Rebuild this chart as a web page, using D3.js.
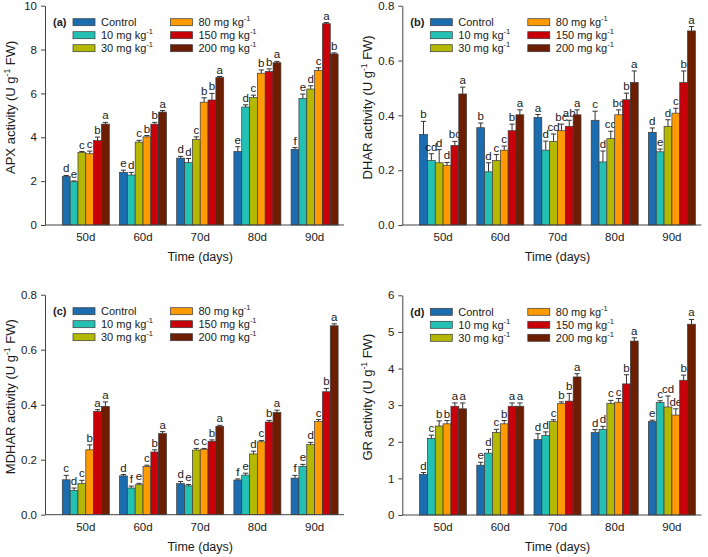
<!DOCTYPE html>
<html><head><meta charset="utf-8">
<script src="https://cdn.jsdelivr.net/npm/d3@7"></script>
<style>body{margin:0;background:#fff}svg{display:block;font-family:"Liberation Sans",Arial,sans-serif}</style>
</head><body><svg id="c" width="708" height="557"></svg>
<script>
const categories = ["50d", "60d", "70d", "80d", "90d"];
const seriesLabels = ["Control", "10 mg kg", "30 mg kg", "80 mg kg", "150 mg kg", "200 mg kg"];
const seriesSup = ["", "-1", "-1", "-1", "-1", "-1"];
const seriesColors = ["#1b6db0", "#23c1b4", "#b4b800", "#ff9a00", "#c8000a", "#6e1e00"];

// rows = categories, columns = series
const apxMeans = [
  [2.22, 1.97, 3.30, 3.25, 3.85, 4.60],
  [2.40, 2.28, 3.78, 4.02, 4.60, 5.15],
  [3.05, 2.85, 3.90, 5.60, 5.70, 6.72],
  [3.35, 5.38, 5.82, 6.92, 7.00, 7.40],
  [3.45, 5.77, 6.20, 7.05, 9.18, 7.80]];
const apxErrors = [
  [0.04, 0.04, 0.05, 0.12, 0.16, 0.08],
  [0.10, 0.12, 0.08, 0.06, 0.08, 0.07],
  [0.08, 0.18, 0.12, 0.20, 0.30, 0.05],
  [0.22, 0.10, 0.10, 0.15, 0.12, 0.06],
  [0.08, 0.20, 0.15, 0.12, 0.05, 0.05]];
const apxLetters = [
  ["d", "e", "c", "c", "b", "a"],
  ["e", "d", "c", "b", "b", "a"],
  ["d", "d", "c", "b", "b", "a"],
  ["e", "d", "c", "b", "b", "a"],
  ["f", "e", "d", "c", "a", "b"]];
const apxTicks = [0, 2, 4, 6, 8, 10];

const dharMeans = [
  [0.330, 0.235, 0.227, 0.218, 0.290, 0.478],
  [0.355, 0.194, 0.235, 0.273, 0.344, 0.402],
  [0.392, 0.273, 0.305, 0.344, 0.360, 0.402],
  [0.382, 0.230, 0.315, 0.402, 0.457, 0.520],
  [0.338, 0.267, 0.360, 0.408, 0.520, 0.708]];
const dharErrors = [
  [0.048, 0.025, 0.048, 0.010, 0.015, 0.025],
  [0.017, 0.033, 0.022, 0.015, 0.024, 0.018],
  [0.011, 0.033, 0.027, 0.024, 0.022, 0.018],
  [0.033, 0.040, 0.027, 0.018, 0.024, 0.042],
  [0.016, 0.010, 0.024, 0.018, 0.042, 0.016]];
const dharLetters = [
  ["b", "cd", "d", "d", "bc", "a"],
  ["b", "d", "c", "c", "b", "a"],
  ["a", "d", "cd", "bc", "ab", "a"],
  ["c", "d", "cd", "bc", "b", "a"],
  ["d", "e", "d", "c", "b", "a"]];
const dharTicks = [0, 0.2, 0.4, 0.6, 0.8];

const mdharMeans = [
  [0.127, 0.088, 0.113, 0.236, 0.376, 0.394],
  [0.141, 0.097, 0.109, 0.175, 0.228, 0.295],
  [0.113, 0.105, 0.235, 0.238, 0.267, 0.321],
  [0.126, 0.144, 0.221, 0.265, 0.337, 0.372],
  [0.133, 0.176, 0.255, 0.339, 0.447, 0.687]];
const mdharErrors = [
  [0.016, 0.009, 0.012, 0.018, 0.006, 0.016],
  [0.005, 0.007, 0.005, 0.005, 0.008, 0.007],
  [0.008, 0.005, 0.006, 0.003, 0.005, 0.004],
  [0.004, 0.007, 0.010, 0.005, 0.006, 0.008],
  [0.010, 0.007, 0.008, 0.007, 0.012, 0.007]];
const mdharLetters = [
  ["c", "d", "c", "b", "a", "a"],
  ["d", "f", "e", "c", "b", "a"],
  ["d", "e", "c", "c", "b", "a"],
  ["f", "e", "d", "c", "b", "a"],
  ["f", "e", "d", "c", "b", "a"]];
const mdharTicks = [0, 0.2, 0.4, 0.6, 0.8];

const grMeans = [
  [1.11, 2.09, 2.43, 2.49, 2.97, 2.90],
  [1.36, 1.69, 2.25, 2.49, 2.97, 2.97],
  [2.06, 2.17, 2.55, 3.04, 3.11, 3.77],
  [2.25, 2.34, 3.05, 3.08, 3.58, 4.75],
  [2.55, 3.07, 2.95, 2.73, 3.68, 5.21]];
const grErrors = [
  [0.05, 0.09, 0.14, 0.09, 0.09, 0.16],
  [0.08, 0.10, 0.09, 0.09, 0.09, 0.09],
  [0.16, 0.10, 0.05, 0.05, 0.21, 0.09],
  [0.08, 0.08, 0.08, 0.10, 0.25, 0.09],
  [0.04, 0.05, 0.30, 0.17, 0.14, 0.13]];
const grLetters = [
  ["d", "c", "b", "b", "a", "a"],
  ["e", "d", "c", "b", "a", "a"],
  ["d", "d", "c", "b", "b", "a"],
  ["d", "d", "c", "c", "b", "a"],
  ["e", "c", "cd", "de", "b", "a"]];
const grTicks = [0, 1, 2, 3, 4, 5, 6];

const panels = [
  {tag: "(a)", name: "APX", means: apxMeans, errs: apxErrors, letters: apxLetters, ticks: apxTicks, fmt: d3.format("d"), ax: 45, top: 5.7, bottom: 225},
  {tag: "(b)", name: "DHAR", means: dharMeans, errs: dharErrors, letters: dharLetters, ticks: dharTicks, fmt: d3.format(".1f"), ax: 402.3, top: 5.7, bottom: 225},
  {tag: "(c)", name: "MDHAR", means: mdharMeans, errs: mdharErrors, letters: mdharLetters, ticks: mdharTicks, fmt: d3.format(".1f"), ax: 45, top: 294.7, bottom: 514.7},
  {tag: "(d)", name: "GR", means: grMeans, errs: grErrors, letters: grLetters, ticks: grTicks, fmt: d3.format("d"), ax: 402.3, top: 295.3, bottom: 515}
];

const svg = d3.select("#c");
const axisColor = "#444";
const textColor = "#1a1a1a";

panels.forEach(p => {
  const g = svg.append("g");
  const ticks = p.ticks;
  const y = d3.scaleLinear().domain([ticks[0], ticks[ticks.length - 1]]).range([p.bottom, p.top]);
  const x = d3.scaleBand().domain(categories)
    .range([p.ax + 12.2, p.ax + 12.2 + 5 * 57.2])
    .paddingInner(0.178).paddingOuter(0.089);
  const xs = d3.scaleBand().domain(d3.range(seriesLabels.length)).range([0, x.bandwidth()]);

  // bars
  categories.forEach((c, ci) => {
    const grp = g.append("g").attr("transform", `translate(${x(c)},0)`);
    seriesLabels.forEach((s, si) => {
      const v = p.means[ci][si], e = p.errs[ci][si];
      const bx = xs(si), bw = xs.bandwidth(), cx = bx + bw / 2;
      grp.append("rect").attr("x", bx).attr("y", y(v)).attr("width", bw).attr("height", y(0) - y(v))
        .attr("fill", seriesColors[si]).attr("stroke", "#3a3a3a").attr("stroke-width", 0.7);
      grp.append("line").attr("x1", cx).attr("x2", cx).attr("y1", y(v)).attr("y2", y(v + e))
        .attr("stroke", "#333").attr("stroke-width", 1);
      grp.append("line").attr("x1", cx - 2.6).attr("x2", cx + 2.6).attr("y1", y(v + e)).attr("y2", y(v + e))
        .attr("stroke", "#333").attr("stroke-width", 1);
      grp.append("text").attr("x", cx).attr("y", y(v + e) - 3).attr("text-anchor", "middle")
        .attr("font-size", 11.5).attr("fill", textColor).text(p.letters[ci][si]);
    });
  });

  // y axis
  const ya = g.append("g").attr("transform", `translate(${p.ax},0)`)
    .call(d3.axisLeft(y).tickValues(ticks).tickFormat(p.fmt).tickSize(4).tickSizeOuter(0).tickPadding(4));
  ya.select(".domain").attr("stroke", axisColor);
  ya.selectAll(".tick line").attr("stroke", axisColor);
  ya.selectAll("text").attr("font-size", 11.5).attr("fill", textColor).attr("font-family", null);

  // x axis
  const xa = g.append("g").attr("transform", `translate(0,${p.bottom})`)
    .call(d3.axisBottom(x).tickSize(0).tickPadding(8));
  xa.select(".domain").remove();
  xa.selectAll("text").attr("font-size", 11.5).attr("fill", textColor).attr("font-family", null);
  g.append("line").attr("x1", p.ax).attr("x2", p.ax + 299).attr("y1", p.bottom).attr("y2", p.bottom)
    .attr("stroke", axisColor).attr("stroke-width", 1);

  // axis titles
  const xr = x.range();
  g.append("text").attr("x", (xr[0] + xr[1]) / 2).attr("y", p.bottom + 36).attr("text-anchor", "middle")
    .attr("font-size", 12.5).attr("fill", textColor).text("Time (days)");
  const yt = g.append("text").attr("transform", `translate(${p.ax - 30},${(p.top + p.bottom) / 2 - 8}) rotate(-90)`)
    .attr("text-anchor", "middle").attr("font-size", 13).attr("fill", textColor);
  yt.append("tspan").text(p.name + " activity (U g");
  yt.append("tspan").attr("font-size", 8.5).attr("dy", -5).text("-1");
  yt.append("tspan").attr("dy", 5).text(" FW)");

  // panel tag
  g.append("text").attr("x", p.ax + 8).attr("y", p.top + 16.5 + 4).attr("font-size", 11)
    .attr("font-weight", "bold").attr("fill", textColor).text(p.tag);

  // legend
  const rowOff = [16.5, 29.5, 42.5];
  seriesLabels.forEach((s, si) => {
    const col = si < 3 ? 0 : 1, row = si % 3;
    const sx = p.ax + (col ? 125.5 : 28), sy = p.top + rowOff[row];
    g.append("rect").attr("x", sx).attr("y", sy - 3.5).attr("width", 22).attr("height", 7)
      .attr("fill", seriesColors[si]).attr("stroke", "#3a3a3a").attr("stroke-width", 0.7);
    const t = g.append("text").attr("x", sx + 28).attr("y", sy + 4).attr("font-size", 11).attr("fill", textColor);
    t.append("tspan").text(s);
    if (seriesSup[si]) t.append("tspan").attr("font-size", 7.5).attr("dy", -5).text(seriesSup[si]);
  });
});
</script></body></html>
